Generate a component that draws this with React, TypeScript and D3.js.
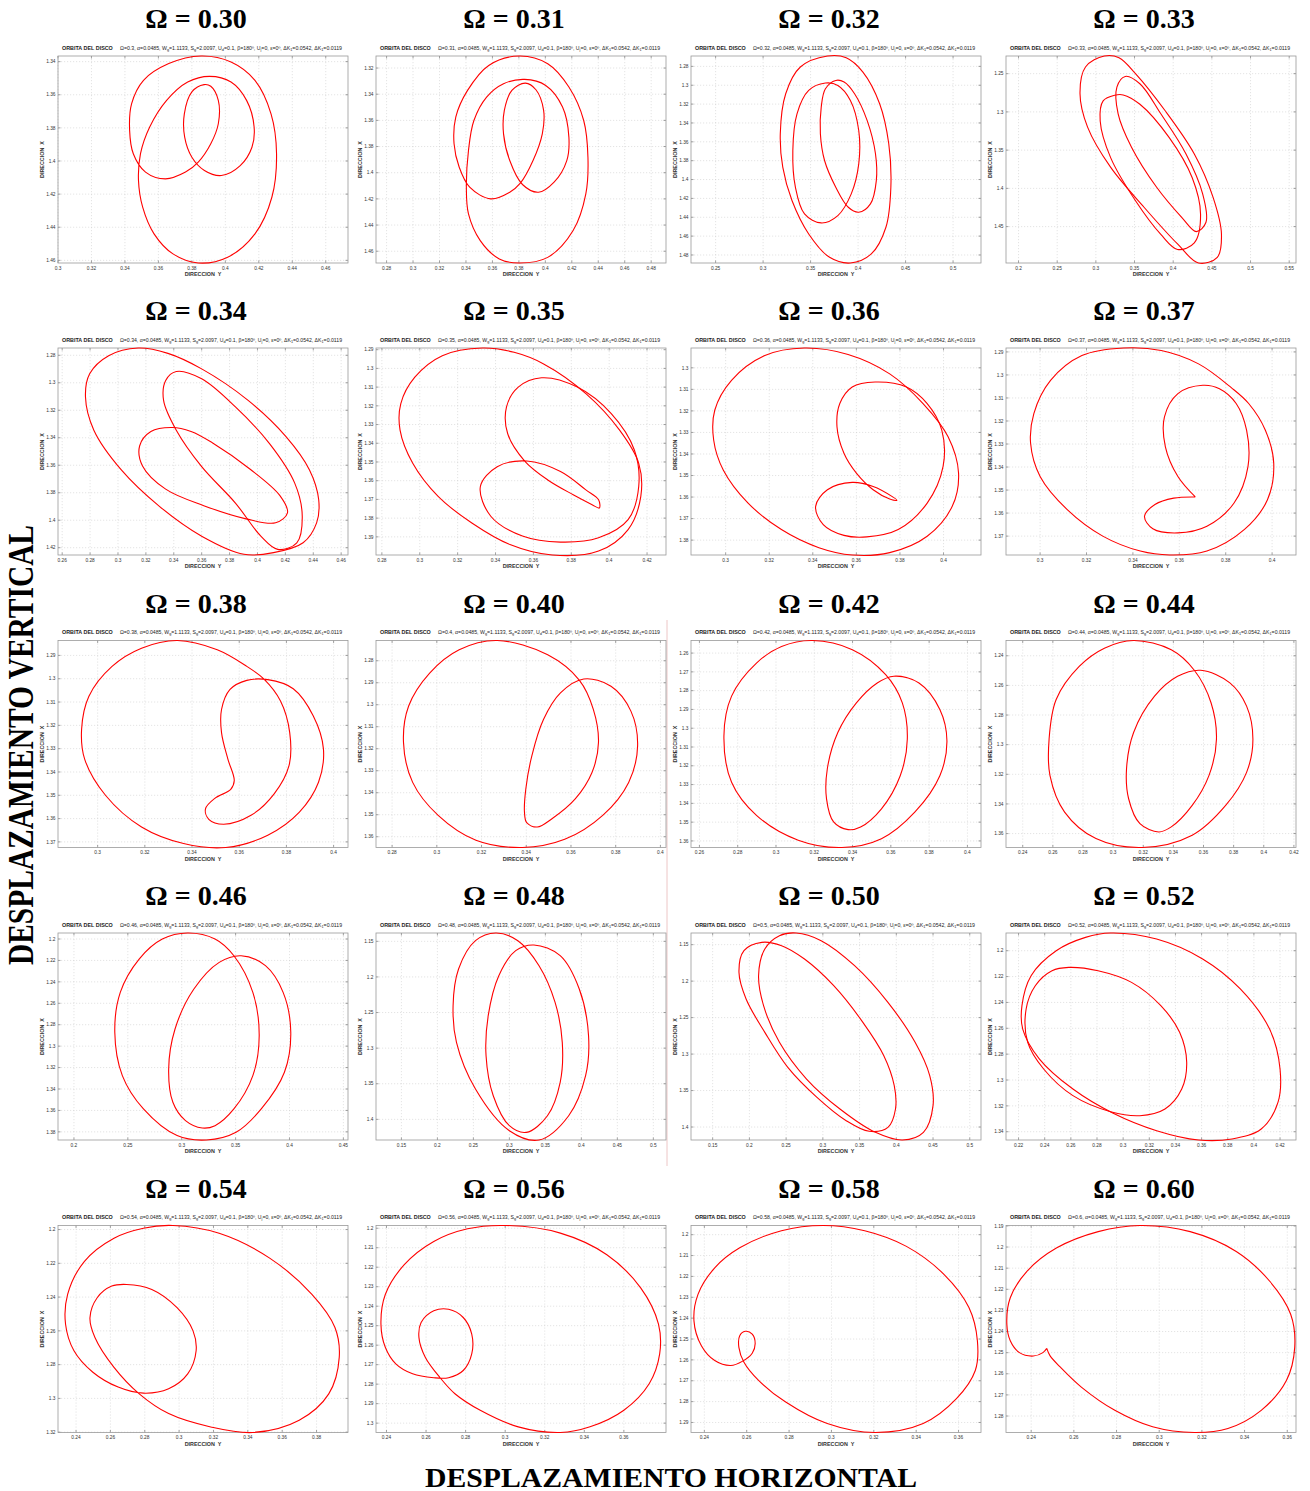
import * as d3 from 'd3';
import React from 'react';

type Pt = [number, number];

// Ω labels used in the panel titles and in the parameter line
const omegaTitles = ['0.30', '0.31', '0.32', '0.33', '0.34', '0.35', '0.36', '0.37', '0.38', '0.40',
  '0.42', '0.44', '0.46', '0.48', '0.50', '0.52', '0.54', '0.56', '0.58', '0.60'];
const omegaParams = ['0.3', '0.31', '0.32', '0.33', '0.34', '0.35', '0.36', '0.37', '0.38', '0.4',
  '0.42', '0.44', '0.46', '0.48', '0.5', '0.52', '0.54', '0.56', '0.58', '0.6'];

// axis limits: DIRECCION Y (horizontal) and DIRECCION X (vertical, increasing downward)
const xLimits: [number, number][] = [
  [0.3, 0.4733], [0.272, 0.4912], [0.2241, 0.5294], [0.1838, 0.5588],
  [0.257, 0.4649], [0.2769, 0.43], [0.2841, 0.4172], [0.2853, 0.4103],
  [0.2832, 0.4061], [0.2728, 0.4025], [0.2556, 0.4071], [0.2289, 0.4214],
  [0.1852, 0.4543], [0.1147, 0.5176], [0.1205, 0.5153], [0.2104, 0.4322],
  [0.2295, 0.3983], [0.2347, 0.3813], [0.2337, 0.3706], [0.2282, 0.3641],
];
const yLimits: [number, number][] = [
  [1.3366, 1.4616], [1.3108, 1.469], [1.269, 1.4885], [1.2269, 1.4976],
  [1.2747, 1.4253], [1.2891, 1.3997], [1.2908, 1.3869], [1.2883, 1.3782],
  [1.2836, 1.3724], [1.2708, 1.3649], [1.2533, 1.3635], [1.2297, 1.3694],
  [1.1944, 1.3876], [1.1383, 1.429], [1.134, 1.4178], [1.1863, 1.3464],
  [1.1976, 1.3202], [1.1986, 1.3048], [1.1956, 1.2948], [1.1898, 1.2878],
];

const xTicks: number[][] = [
  [0.3, 0.32, 0.34, 0.36, 0.38, 0.4, 0.42, 0.44, 0.46],
  [0.28, 0.3, 0.32, 0.34, 0.36, 0.38, 0.4, 0.42, 0.44, 0.46, 0.48],
  [0.25, 0.3, 0.35, 0.4, 0.45, 0.5],
  [0.2, 0.25, 0.3, 0.35, 0.4, 0.45, 0.5, 0.55],
  [0.26, 0.28, 0.3, 0.32, 0.34, 0.36, 0.38, 0.4, 0.42, 0.44, 0.46],
  [0.28, 0.3, 0.32, 0.34, 0.36, 0.38, 0.4, 0.42],
  [0.3, 0.32, 0.34, 0.36, 0.38, 0.4],
  [0.3, 0.32, 0.34, 0.36, 0.38, 0.4],
  [0.3, 0.32, 0.34, 0.36, 0.38, 0.4],
  [0.28, 0.3, 0.32, 0.34, 0.36, 0.38, 0.4],
  [0.26, 0.28, 0.3, 0.32, 0.34, 0.36, 0.38, 0.4],
  [0.24, 0.26, 0.28, 0.3, 0.32, 0.34, 0.36, 0.38, 0.4, 0.42],
  [0.2, 0.25, 0.3, 0.35, 0.4, 0.45],
  [0.15, 0.2, 0.25, 0.3, 0.35, 0.4, 0.45, 0.5],
  [0.15, 0.2, 0.25, 0.3, 0.35, 0.4, 0.45, 0.5],
  [0.22, 0.24, 0.26, 0.28, 0.3, 0.32, 0.34, 0.36, 0.38, 0.4, 0.42],
  [0.24, 0.26, 0.28, 0.3, 0.32, 0.34, 0.36, 0.38],
  [0.24, 0.26, 0.28, 0.3, 0.32, 0.34, 0.36],
  [0.24, 0.26, 0.28, 0.3, 0.32, 0.34, 0.36],
  [0.24, 0.26, 0.28, 0.3, 0.32, 0.34, 0.36],
];
const yTicks: number[][] = [
  [1.34, 1.36, 1.38, 1.4, 1.42, 1.44, 1.46],
  [1.32, 1.34, 1.36, 1.38, 1.4, 1.42, 1.44, 1.46],
  [1.28, 1.3, 1.32, 1.34, 1.36, 1.38, 1.4, 1.42, 1.44, 1.46, 1.48],
  [1.25, 1.3, 1.35, 1.4, 1.45],
  [1.28, 1.3, 1.32, 1.34, 1.36, 1.38, 1.4, 1.42],
  [1.29, 1.3, 1.31, 1.32, 1.33, 1.34, 1.35, 1.36, 1.37, 1.38, 1.39],
  [1.3, 1.31, 1.32, 1.33, 1.34, 1.35, 1.36, 1.37, 1.38],
  [1.29, 1.3, 1.31, 1.32, 1.33, 1.34, 1.35, 1.36, 1.37],
  [1.29, 1.3, 1.31, 1.32, 1.33, 1.34, 1.35, 1.36, 1.37],
  [1.28, 1.29, 1.3, 1.31, 1.32, 1.33, 1.34, 1.35, 1.36],
  [1.26, 1.27, 1.28, 1.29, 1.3, 1.31, 1.32, 1.33, 1.34, 1.35, 1.36],
  [1.24, 1.26, 1.28, 1.3, 1.32, 1.34, 1.36],
  [1.2, 1.22, 1.24, 1.26, 1.28, 1.3, 1.32, 1.34, 1.36, 1.38],
  [1.15, 1.2, 1.25, 1.3, 1.35, 1.4],
  [1.15, 1.2, 1.25, 1.3, 1.35, 1.4],
  [1.2, 1.22, 1.24, 1.26, 1.28, 1.3, 1.32, 1.34],
  [1.2, 1.22, 1.24, 1.26, 1.28, 1.3, 1.32],
  [1.2, 1.21, 1.22, 1.23, 1.24, 1.25, 1.26, 1.27, 1.28, 1.29, 1.3],
  [1.2, 1.21, 1.22, 1.23, 1.24, 1.25, 1.26, 1.27, 1.28, 1.29],
  [1.19, 1.2, 1.21, 1.22, 1.23, 1.24, 1.25, 1.26, 1.27, 1.28],
];

// orbits as [Y, X] points; a loop whose last point repeats the first is open (cusp)
const orbit030: Pt[][] = [[
  [0.3855, 1.3366], [0.3662, 1.3412], [0.3511, 1.3513], [0.344, 1.3654], [0.3428, 1.3815], [0.345, 1.3956],
  [0.3523, 1.4067], [0.3642, 1.4108], [0.3762, 1.4067], [0.3838, 1.4007], [0.3913, 1.3896], [0.3958, 1.3775],
  [0.3958, 1.3634], [0.3913, 1.3549], [0.3873, 1.3539], [0.38, 1.3583], [0.3755, 1.3715], [0.3757, 1.3856],
  [0.38, 1.3977], [0.3875, 1.4057], [0.3976, 1.4088], [0.4089, 1.4028], [0.4159, 1.3917], [0.4172, 1.3795],
  [0.4127, 1.3634], [0.4034, 1.3523], [0.3906, 1.3489], [0.3775, 1.3523], [0.3649, 1.3634], [0.3548, 1.3795],
  [0.3493, 1.3956], [0.3481, 1.4118], [0.3506, 1.4279], [0.3574, 1.444], [0.3687, 1.4561], [0.3838, 1.4616],
  [0.4014, 1.4581], [0.4177, 1.444], [0.4278, 1.4219], [0.4306, 1.3956], [0.4273, 1.3715], [0.4177, 1.3513],
  [0.4034, 1.3402],
]];
const orbit031: Pt[][] = [[
  [0.3802, 1.3108], [0.3572, 1.318], [0.3412, 1.3371], [0.3323, 1.3575], [0.331, 1.3779], [0.3349, 1.3958],
  [0.3428, 1.4111], [0.3588, 1.42], [0.3731, 1.4149], [0.3811, 1.408], [0.3907, 1.3907], [0.3977, 1.3703],
  [0.3987, 1.3524], [0.3929, 1.3366], [0.3849, 1.3315], [0.3747, 1.3371], [0.369, 1.3524], [0.3684, 1.3703],
  [0.3731, 1.3907], [0.3827, 1.409], [0.3948, 1.4149], [0.4066, 1.4072], [0.4162, 1.3907], [0.4178, 1.3728],
  [0.413, 1.3498], [0.4003, 1.3333], [0.3843, 1.3287], [0.3684, 1.332], [0.3556, 1.3422], [0.346, 1.3601],
  [0.3419, 1.383], [0.3403, 1.4111], [0.3419, 1.4315], [0.3508, 1.4519], [0.3652, 1.4659], [0.3802, 1.469],
  [0.4018, 1.4647], [0.421, 1.4442], [0.4306, 1.4162], [0.4322, 1.3881], [0.429, 1.3601], [0.4178, 1.3345],
  [0.4018, 1.3167],
]];
const orbit032: Pt[][] = [
  [[0.3678, 1.269], [0.3392, 1.2807], [0.3238, 1.309], [0.3181, 1.3515], [0.3207, 1.3869], [0.3304, 1.4223],
    [0.348, 1.4577], [0.37, 1.4825], [0.3919, 1.4885], [0.4139, 1.4789], [0.4293, 1.4506], [0.4345, 1.4081],
    [0.4323, 1.3621], [0.4227, 1.3196], [0.4051, 1.286], [0.3875, 1.2708]],
  [[0.3656, 1.2977], [0.348, 1.3055], [0.3357, 1.3303], [0.3313, 1.3692], [0.334, 1.4081], [0.3436, 1.4365],
    [0.3612, 1.446], [0.3787, 1.4382], [0.3928, 1.4152], [0.4007, 1.3834], [0.4007, 1.348], [0.3919, 1.3161],
    [0.3787, 1.3002]],
  [[0.3765, 1.2949], [0.3656, 1.3037], [0.3612, 1.3232], [0.3603, 1.3515], [0.3647, 1.3798], [0.3765, 1.4081],
    [0.3897, 1.4294], [0.4007, 1.4347], [0.413, 1.4258], [0.4192, 1.4011], [0.4183, 1.3727], [0.4095, 1.3373],
    [0.3963, 1.309], [0.3853, 1.2966]],
];
const orbit033: Pt[][] = [
  [[0.3109, 1.2269], [0.2866, 1.2413], [0.2795, 1.2762], [0.2893, 1.3199], [0.319, 1.3723], [0.3623, 1.4247],
    [0.4056, 1.4727], [0.4327, 1.4976], [0.457, 1.4902], [0.4624, 1.4598], [0.4516, 1.4118], [0.4273, 1.355],
    [0.3894, 1.2982], [0.3515, 1.2502], [0.3299, 1.2291]],
  [[0.338, 1.2536], [0.3272, 1.2675], [0.3288, 1.3025], [0.3461, 1.3461], [0.3786, 1.3985], [0.411, 1.4378],
    [0.43, 1.4566], [0.4424, 1.4443], [0.4381, 1.4072], [0.4164, 1.3548], [0.384, 1.3025], [0.3569, 1.2632]],
  [[0.3245, 1.2782], [0.3094, 1.2856], [0.3056, 1.3118], [0.3191, 1.3598], [0.3515, 1.4166], [0.384, 1.4603],
    [0.4056, 1.4799], [0.4273, 1.4712], [0.4354, 1.4341], [0.4246, 1.3861], [0.3949, 1.3337], [0.357, 1.29],
    [0.3353, 1.2778]],
];
const orbit034: Pt[][] = [
  [[0.3145, 1.2747], [0.2933, 1.2803], [0.2797, 1.2935], [0.2767, 1.3104], [0.2827, 1.3345], [0.3024, 1.3634],
    [0.3297, 1.3899], [0.36, 1.4116], [0.3903, 1.4248], [0.4115, 1.4236], [0.4327, 1.4164], [0.4424, 1.4019],
    [0.4439, 1.3851], [0.4373, 1.3634], [0.4206, 1.3393], [0.3933, 1.3128], [0.36, 1.2899], [0.3358, 1.2786]],
  [[0.3418, 1.2918], [0.3342, 1.2983], [0.3327, 1.3128], [0.3418, 1.3345], [0.36, 1.361], [0.3842, 1.3875],
    [0.4024, 1.4116], [0.4145, 1.4212], [0.4282, 1.4164], [0.4321, 1.3971], [0.4267, 1.373], [0.4085, 1.3441],
    [0.3842, 1.3176], [0.36, 1.2971]],
  [[0.3388, 1.3325], [0.3236, 1.3354], [0.3155, 1.346], [0.3176, 1.3605], [0.3342, 1.3774], [0.3615, 1.3894],
    [0.3918, 1.399], [0.413, 1.4019], [0.4215, 1.3947], [0.4161, 1.3821], [0.3948, 1.3629], [0.3676, 1.3436],
    [0.3524, 1.3354]],
];
const orbit035: Pt[][] = [
  [[0.3331, 1.2891], [0.3119, 1.2932], [0.2974, 1.3047], [0.29, 1.3188], [0.2896, 1.333], [0.2963, 1.3507],
    [0.3097, 1.3684], [0.3275, 1.3826], [0.3476, 1.3941], [0.3699, 1.3997], [0.3944, 1.3976], [0.41, 1.3861],
    [0.4167, 1.3684], [0.4156, 1.3507], [0.4055, 1.333], [0.3877, 1.3135], [0.3654, 1.2976], [0.3498, 1.2914]],
  [[0.3643, 1.305], [0.352, 1.31], [0.3458, 1.3206], [0.3464, 1.3348], [0.3554, 1.3495], [0.3676, 1.3596],
    [0.381, 1.3675], [0.391, 1.3728], [0.3948, 1.3746], [0.3944, 1.3702], [0.3877, 1.3649], [0.3743, 1.3551],
    [0.3565, 1.3495], [0.3409, 1.3525], [0.332, 1.3631], [0.3375, 1.379], [0.3542, 1.3896], [0.3743, 1.3928],
    [0.3944, 1.3905], [0.41, 1.3808], [0.4156, 1.3631], [0.4133, 1.3436], [0.4011, 1.3242], [0.3832, 1.31]],
];
const orbit036: Pt[][] = [
  [[0.3361, 1.2908], [0.318, 1.2943], [0.3027, 1.3058], [0.295, 1.3197], [0.2945, 1.3335], [0.2989, 1.3474],
    [0.3103, 1.3628], [0.3256, 1.3751], [0.3428, 1.3835], [0.3581, 1.3869], [0.3753, 1.3858], [0.3925, 1.3782],
    [0.404, 1.3643], [0.4069, 1.3489], [0.4021, 1.332], [0.3906, 1.3166], [0.3753, 1.3028], [0.3562, 1.2938]],
  [[0.3686, 1.3066], [0.3581, 1.3089], [0.3524, 1.3166], [0.3511, 1.3274], [0.3543, 1.3397], [0.36, 1.3489],
    [0.3677, 1.3566], [0.3753, 1.3609], [0.3786, 1.3615], [0.3763, 1.3597], [0.3677, 1.3551], [0.3581, 1.3532],
    [0.3467, 1.3566], [0.3413, 1.3643], [0.3448, 1.3728], [0.3543, 1.3778], [0.3648, 1.3785], [0.3792, 1.3751],
    [0.3925, 1.3628], [0.3998, 1.3458], [0.3992, 1.3289], [0.3925, 1.3166], [0.383, 1.3089]],
];
const orbit037: Pt[][] = [
  [[0.336, 1.2883], [0.318, 1.2916], [0.3045, 1.3024], [0.2973, 1.3168], [0.2959, 1.3297], [0.3, 1.3441],
    [0.3117, 1.3585], [0.327, 1.37], [0.3432, 1.3765], [0.3558, 1.3782], [0.3719, 1.3765], [0.3881, 1.3671],
    [0.398, 1.3542], [0.4007, 1.3383], [0.3971, 1.324], [0.3899, 1.3124], [0.3824, 1.3055], [0.3683, 1.2952],
    [0.3522, 1.2894]],
  [[0.3669, 1.353], [0.3576, 1.3535], [0.3495, 1.3563], [0.345, 1.3614], [0.3486, 1.3668], [0.3594, 1.3686],
    [0.3719, 1.3657], [0.3836, 1.3556], [0.3896, 1.3398], [0.389, 1.324], [0.3845, 1.3124], [0.3773, 1.306],
    [0.3701, 1.3045], [0.3594, 1.3081], [0.3536, 1.3182], [0.354, 1.3312], [0.3594, 1.3441], [0.3669, 1.353]],
];
const orbit038: Pt[][] = [[
  [0.3338, 1.2836], [0.3507, 1.2876], [0.3632, 1.2947], [0.3704, 1.3001], [0.3775, 1.3096], [0.3814, 1.3231],
  [0.3811, 1.3373], [0.3748, 1.3494], [0.365, 1.3586], [0.3534, 1.3624], [0.3471, 1.3603], [0.3457, 1.3558],
  [0.3498, 1.3512], [0.3564, 1.3475], [0.3579, 1.3437], [0.3552, 1.3345], [0.3525, 1.3231], [0.3525, 1.3132],
  [0.3561, 1.3046], [0.3632, 1.3007], [0.3721, 1.3004], [0.3829, 1.3043], [0.3914, 1.316], [0.3957, 1.3302],
  [0.3936, 1.3444], [0.3855, 1.3572], [0.3721, 1.3671], [0.3543, 1.3724], [0.3364, 1.3707], [0.3186, 1.3636],
  [0.3034, 1.3501], [0.2945, 1.3345], [0.2932, 1.3217], [0.2963, 1.3075], [0.3061, 1.2947], [0.3186, 1.2869],
]];
const orbit040: Pt[][] = [[
  [0.327, 1.2708], [0.3496, 1.2773], [0.3638, 1.2889], [0.37, 1.3021], [0.3723, 1.3172], [0.3694, 1.3308],
  [0.3619, 1.3428], [0.3515, 1.3518], [0.3449, 1.3556], [0.3402, 1.3536], [0.3392, 1.3488], [0.3398, 1.3383],
  [0.3425, 1.3232], [0.3477, 1.3067], [0.3553, 1.2946], [0.3657, 1.2883], [0.3779, 1.2916], [0.3868, 1.3029],
  [0.3898, 1.3187], [0.3858, 1.3353], [0.3742, 1.3503], [0.3572, 1.3612], [0.3383, 1.3649], [0.3175, 1.3616],
  [0.3006, 1.3503], [0.2892, 1.3353], [0.2851, 1.3172], [0.2874, 1.3006], [0.2968, 1.2856], [0.31, 1.275],
]];
const orbit042: Pt[][] = [[
  [0.3192, 1.2533], [0.3399, 1.2582], [0.3573, 1.2715], [0.366, 1.2865], [0.3686, 1.3059], [0.3649, 1.3253],
  [0.3551, 1.3429], [0.3442, 1.3526], [0.3377, 1.354], [0.3301, 1.3499], [0.3264, 1.3376], [0.3268, 1.3217],
  [0.3323, 1.3023], [0.342, 1.2865], [0.3529, 1.2759], [0.3616, 1.2723], [0.3747, 1.2759], [0.3856, 1.29],
  [0.3893, 1.3067], [0.3856, 1.3253], [0.3725, 1.3447], [0.3551, 1.3588], [0.3344, 1.3635], [0.3116, 1.3596],
  [0.2898, 1.3464], [0.2768, 1.3288], [0.2728, 1.3041], [0.2768, 1.2829], [0.2898, 1.2653], [0.3029, 1.2565],
]];
const orbit044: Pt[][] = [[
  [0.3136, 1.2297], [0.3386, 1.236], [0.3539, 1.2498], [0.365, 1.2717], [0.3686, 1.2963], [0.3636, 1.3209],
  [0.3525, 1.341], [0.3386, 1.3555], [0.3303, 1.3589], [0.3178, 1.3533], [0.3103, 1.3365], [0.3089, 1.3164],
  [0.3136, 1.2918], [0.3275, 1.2673], [0.3428, 1.2539], [0.3581, 1.2498], [0.3775, 1.2583], [0.3886, 1.274],
  [0.3928, 1.2963], [0.3886, 1.3187], [0.3747, 1.341], [0.3525, 1.3611], [0.3192, 1.3694], [0.2886, 1.3634],
  [0.2678, 1.3455], [0.2581, 1.3209], [0.2575, 1.2963], [0.2622, 1.2695], [0.2775, 1.2472], [0.2942, 1.2349],
]];
const orbit046: Pt[][] = [[
  [0.3055, 1.1944], [0.3309, 1.2], [0.3484, 1.2156], [0.366, 1.2498], [0.3719, 1.2902], [0.366, 1.3275],
  [0.3484, 1.3586], [0.3309, 1.3742], [0.3191, 1.3764], [0.3035, 1.3695], [0.2918, 1.3524], [0.2879, 1.3213],
  [0.2938, 1.284], [0.3113, 1.2467], [0.3348, 1.2218], [0.3551, 1.2156], [0.3777, 1.2249], [0.3941, 1.2498],
  [0.4012, 1.2871], [0.3953, 1.3244], [0.3738, 1.3586], [0.3504, 1.3804], [0.323, 1.3876], [0.2957, 1.3835],
  [0.2645, 1.3586], [0.2449, 1.3275], [0.2379, 1.2871], [0.243, 1.2498], [0.2605, 1.2187], [0.282, 1.2],
]];
const orbit048: Pt[][] = [[
  [0.2812, 1.1383], [0.3118, 1.1491], [0.3412, 1.1842], [0.3635, 1.2357], [0.3735, 1.2919], [0.3706, 1.348],
  [0.3529, 1.3949], [0.3235, 1.4183], [0.3, 1.4089], [0.2776, 1.3668], [0.2676, 1.3106], [0.2706, 1.2544],
  [0.2853, 1.1982], [0.3088, 1.1631], [0.3341, 1.1551], [0.3706, 1.1701], [0.3971, 1.2169], [0.41, 1.2825],
  [0.4059, 1.3387], [0.3824, 1.3949], [0.3412, 1.429], [0.3, 1.4159], [0.2529, 1.3574], [0.2265, 1.2919],
  [0.2218, 1.2404], [0.2294, 1.1889], [0.2529, 1.1491],
]];
const orbit050: Pt[][] = [
  [[0.217, 1.1468], [0.2438, 1.1514], [0.275, 1.1697], [0.3148, 1.2062], [0.3545, 1.2565], [0.383, 1.3022],
    [0.3972, 1.3433], [0.3989, 1.3753], [0.3886, 1.4005], [0.3631, 1.4059], [0.3318, 1.3913], [0.292, 1.3593],
    [0.2523, 1.3182], [0.221, 1.2702], [0.1955, 1.2245], [0.1858, 1.1879], [0.1926, 1.1582]],
  [[0.2636, 1.134], [0.2977, 1.1445], [0.3432, 1.1788], [0.3886, 1.2291], [0.4256, 1.2839], [0.4455, 1.3296],
    [0.45, 1.3707], [0.4369, 1.4073], [0.4085, 1.4178], [0.3716, 1.4073], [0.3233, 1.3753], [0.2778, 1.3342],
    [0.2409, 1.2839], [0.2193, 1.2336], [0.2125, 1.1925], [0.221, 1.1559], [0.2409, 1.1377]],
];
const orbit052: Pt[][] = [
  [[0.2904, 1.1863], [0.3256, 1.191], [0.3608, 1.2064], [0.3896, 1.2296], [0.412, 1.2606], [0.42, 1.2915],
    [0.4184, 1.3173], [0.4056, 1.3379], [0.3832, 1.3456], [0.3576, 1.3464], [0.3256, 1.3392], [0.292, 1.3255],
    [0.2616, 1.307], [0.236, 1.2838], [0.2232, 1.2606], [0.2226, 1.2425], [0.2296, 1.2193], [0.2488, 1.2],
    [0.2712, 1.1897]],
  [[0.2584, 1.2129], [0.2808, 1.2155], [0.3064, 1.2245], [0.3288, 1.2425], [0.3432, 1.2631], [0.3486, 1.2863],
    [0.3448, 1.307], [0.332, 1.3224], [0.3128, 1.3276], [0.2904, 1.3245], [0.2616, 1.3121], [0.2392, 1.2915],
    [0.227, 1.2709], [0.2258, 1.2451], [0.2328, 1.2271], [0.2456, 1.2155]],
];
const orbit054: Pt[][] = [[
  [0.2964, 1.1976], [0.3233, 1.2022], [0.3527, 1.2169], [0.3773, 1.2384], [0.3907, 1.258], [0.3932, 1.2757],
  [0.3871, 1.2973], [0.3699, 1.3129], [0.3429, 1.3202], [0.3184, 1.3169], [0.2939, 1.309], [0.2768, 1.2973],
  [0.2621, 1.2816], [0.251, 1.2639], [0.2481, 1.2522], [0.2523, 1.2404], [0.2608, 1.2335], [0.2694, 1.2325],
  [0.2841, 1.2355], [0.2988, 1.2463], [0.3081, 1.26], [0.3099, 1.2718], [0.305, 1.2855], [0.2939, 1.2943],
  [0.2792, 1.2969], [0.2645, 1.2933], [0.2498, 1.2845], [0.2388, 1.2718], [0.2339, 1.2561], [0.2351, 1.2384],
  [0.2449, 1.2188], [0.2621, 1.2051], [0.2792, 1.1992],
]];
const orbit056: Pt[][] = [[
  [0.3002, 1.1986], [0.3279, 1.2025], [0.3514, 1.2136], [0.3685, 1.2306], [0.3775, 1.2492], [0.3781, 1.2645],
  [0.3728, 1.2798], [0.36, 1.2934], [0.3429, 1.3019], [0.3279, 1.3048], [0.3066, 1.3019], [0.2874, 1.2934],
  [0.2746, 1.2849], [0.2671, 1.2767], [0.2596, 1.2662], [0.2564, 1.256], [0.2575, 1.2484], [0.2639, 1.2424],
  [0.2714, 1.2416], [0.2788, 1.2458], [0.2831, 1.2543], [0.2831, 1.2645], [0.2788, 1.273], [0.2714, 1.2767],
  [0.2639, 1.2767], [0.2532, 1.2747], [0.2447, 1.2696], [0.2394, 1.2611], [0.2372, 1.2492], [0.2394, 1.234],
  [0.249, 1.2187], [0.2639, 1.2068], [0.281, 1.2003],
]];
const orbit058: Pt[][] = [[
  [0.2961, 1.1956], [0.3157, 1.1981], [0.3354, 1.2056], [0.3531, 1.219], [0.3649, 1.2349], [0.3689, 1.2508],
  [0.3679, 1.2651], [0.359, 1.2786], [0.3433, 1.2905], [0.3207, 1.2948], [0.298, 1.2905], [0.2784, 1.2802],
  [0.2656, 1.2698], [0.2587, 1.2611], [0.2563, 1.254], [0.2567, 1.2484], [0.2593, 1.2463], [0.2626, 1.2476],
  [0.264, 1.2521], [0.2626, 1.2568], [0.2581, 1.2606], [0.2524, 1.2627], [0.2449, 1.2603], [0.2386, 1.2532],
  [0.2351, 1.2413], [0.237, 1.2286], [0.2449, 1.2159], [0.2567, 1.2063], [0.2764, 1.1981],
]];
const orbit060: Pt[][] = [[
  [0.2473, 1.248], [0.2455, 1.25], [0.241, 1.2516], [0.2345, 1.25], [0.2302, 1.2444], [0.2286, 1.2366],
  [0.2302, 1.224], [0.238, 1.2115], [0.2518, 1.2005], [0.2714, 1.1927], [0.291, 1.1898], [0.3145, 1.1927],
  [0.3361, 1.2021], [0.3518, 1.2162], [0.3616, 1.2318], [0.3635, 1.2475], [0.3596, 1.2632], [0.3478, 1.2773],
  [0.3322, 1.2859], [0.3165, 1.2878], [0.2969, 1.2851], [0.2792, 1.2773], [0.2635, 1.2663], [0.2537, 1.2569],
  [0.2488, 1.2514], [0.2473, 1.248],
]];

const orbits = [orbit030, orbit031, orbit032, orbit033, orbit034, orbit035, orbit036, orbit037, orbit038, orbit040,
  orbit042, orbit044, orbit046, orbit048, orbit050, orbit052, orbit054, orbit056, orbit058, orbit060];

const colLeft = [58, 376, 691, 1006];
const rowTop = [56, 348, 640.5, 933, 1225.5];
const plotW = 290;
const plotH = 207;

const sans = "'Liberation Sans', Arial, sans-serif";
const serif = "'Liberation Serif', 'Times New Roman', serif";

const fmt = (v: number) => String(+v.toFixed(3));

function Params({ x, y, omega }: { x: number; y: number; omega: string }) {
  // [text, subscript?]
  const parts: [string, boolean][] = [
    [`Ω=${omega}, α=0.0485, W`, false], ['g', true], ['=1.1133, S', false], ['g', true],
    ['=2.0097, U', false], ['d', true], ['=0.1, β=180º, U', false], ['j', true],
    ['=0, ε=0º, ΔK', false], ['1', true], ['=0.0542, ΔK', false], ['1', true], ['=0.0119', false],
  ];
  return (
    <text x={x} y={y} fontFamily={sans} fontSize={4.5} fill="#222" textLength={222} lengthAdjust="spacingAndGlyphs">
      {parts.map(([s, isSub], k) => (
        <tspan key={k} dy={isSub ? 1 : k > 0 ? -1 : 0} fontSize={isSub ? 3.3 : 4.5}>{s}</tspan>
      ))}
    </text>
  );
}

function OrbitPanel({ idx }: { idx: number }) {
  const left = colLeft[idx % 4];
  const top = rowTop[Math.floor(idx / 4)];
  const x = d3.scaleLinear().domain(xLimits[idx]).range([left, left + plotW]);
  const y = d3.scaleLinear().domain(yLimits[idx]).range([top, top + plotH]);
  const cx = left + plotW / 2;
  const cy = top + plotH / 2;
  const closed = d3.line<Pt>().x(d => x(d[0])).y(d => y(d[1])).curve(d3.curveCatmullRomClosed.alpha(0.5));
  const open = d3.line<Pt>().x(d => x(d[0])).y(d => y(d[1])).curve(d3.curveCatmullRom.alpha(0.5));
  const xt = xTicks[idx].filter(v => v >= xLimits[idx][0] && v <= xLimits[idx][1]);
  const yt = yTicks[idx].filter(v => v >= yLimits[idx][0] && v <= yLimits[idx][1]);

  return (
    <g>
      <text x={cx - 7} y={top - 28} textAnchor="middle" fontFamily={serif} fontWeight="bold" fontSize={28}>
        {`Ω = ${omegaTitles[idx]}`}
      </text>
      <text x={left + 4} y={top - 6.5} fontFamily={sans} fontWeight="bold" fontSize={5.4} fill="#222">
        ORBITA DEL DISCO
      </text>
      <Params x={left + 62} y={top - 6.5} omega={omegaParams[idx]} />

      <rect x={left} y={top} width={plotW} height={plotH} fill="#fff" />
      {xt.map(v => (
        <line key={'gx' + v} x1={x(v)} x2={x(v)} y1={top} y2={top + plotH} stroke="#c8c8c8" strokeWidth={0.5} strokeDasharray="1.2 1.8" />
      ))}
      {yt.map(v => (
        <line key={'gy' + v} x1={left} x2={left + plotW} y1={y(v)} y2={y(v)} stroke="#c8c8c8" strokeWidth={0.5} strokeDasharray="1.2 1.8" />
      ))}
      {xt.map(v => (
        <g key={'tx' + v}>
          <line x1={x(v)} x2={x(v)} y1={top + plotH} y2={top + plotH - 2.5} stroke="#666" strokeWidth={0.6} />
          <line x1={x(v)} x2={x(v)} y1={top} y2={top + 2.5} stroke="#666" strokeWidth={0.6} />
          <text x={x(v)} y={top + plotH + 6.8} textAnchor="middle" fontFamily={sans} fontSize={4.8} fill="#333">{fmt(v)}</text>
        </g>
      ))}
      {yt.map(v => (
        <g key={'ty' + v}>
          <line x1={left} x2={left + 2.5} y1={y(v)} y2={y(v)} stroke="#666" strokeWidth={0.6} />
          <line x1={left + plotW} x2={left + plotW - 2.5} y1={y(v)} y2={y(v)} stroke="#666" strokeWidth={0.6} />
          <text x={left - 2.5} y={y(v) + 1.7} textAnchor="end" fontFamily={sans} fontSize={4.8} fill="#333">{fmt(v)}</text>
        </g>
      ))}
      <rect x={left} y={top} width={plotW} height={plotH} fill="none" stroke="#9a9a9a" strokeWidth={0.8} />

      {orbits[idx].map((loop, k) => {
        const a = loop[0];
        const b = loop[loop.length - 1];
        const isOpen = a[0] === b[0] && a[1] === b[1];
        return (
          <path key={k} d={(isOpen ? open(loop) : closed(loop)) || ''} fill="none" stroke="#ff0000" strokeWidth={1.1} />
        );
      })}

      <text x={cx} y={top + plotH + 13} textAnchor="middle" fontFamily={sans} fontWeight="bold" fontSize={5.4}
        fill="#333" style={{ whiteSpace: 'pre' }}>
        {'DIRECCION  Y'}
      </text>
      <text transform={`translate(${left - 14.5},${cy}) rotate(-90)`} textAnchor="middle" fontFamily={sans}
        fontWeight="bold" fontSize={5.4} fill="#333" style={{ whiteSpace: 'pre' }}>
        {'DIRECCION  X'}
      </text>
    </g>
  );
}

export default function App() {
  return (
    <svg width={1310} height={1491} style={{ position: 'absolute', left: 0, top: 0, background: '#fff' }}>
      <rect width={1310} height={1491} fill="#fff" />
      <line x1={667} x2={667} y1={620} y2={1166} stroke="#e8b8b8" strokeWidth={0.8} />
      {orbits.map((_, i) => (
        <OrbitPanel key={i} idx={i} />
      ))}
      <text transform="translate(33,745) rotate(-90)" textAnchor="middle" fontFamily={serif} fontWeight="bold"
        fontSize={35} textLength={440} lengthAdjust="spacingAndGlyphs">
        DESPLAZAMIENTO VERTICAL
      </text>
      <text x={671} y={1487} textAnchor="middle" fontFamily={serif} fontWeight="bold" fontSize={28}
        textLength={492} lengthAdjust="spacingAndGlyphs">
        DESPLAZAMIENTO HORIZONTAL
      </text>
    </svg>
  );
}
